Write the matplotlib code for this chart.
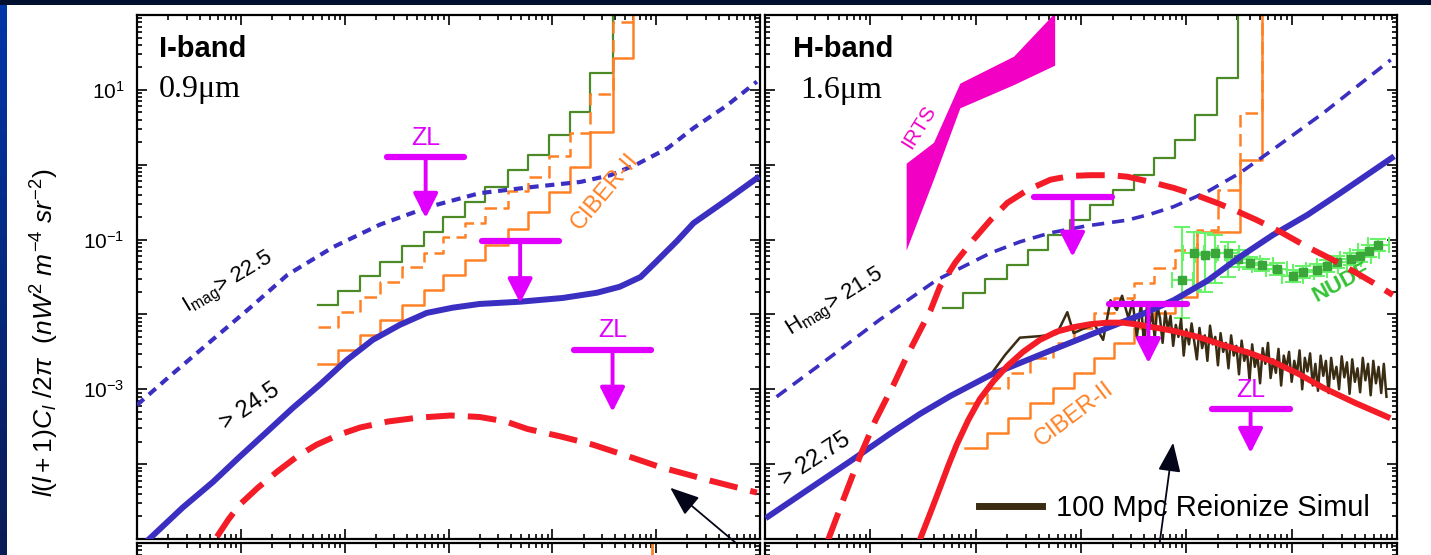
import numpy as np
import matplotlib.pyplot as plt
from matplotlib.lines import Line2D
from matplotlib.colors import LinearSegmentedColormap
from matplotlib.ticker import LogLocator, NullFormatter, FixedLocator, FixedFormatter

plt.rcParams['font.family'] = ['Liberation Sans', 'DejaVu Sans']
plt.rcParams['mathtext.fontset'] = 'custom'
plt.rcParams['mathtext.rm'] = 'Liberation Sans'
plt.rcParams['mathtext.it'] = 'Liberation Sans:italic'
plt.rcParams['mathtext.bf'] = 'Liberation Sans:bold'

# all values below are log10(ell) and log10(l(l+1)C_l/2pi)

# ---- I-band (0.9 um) ----
i_faint_lgl = [1.00, 1.32, 1.70, 2.09, 2.45, 2.89, 3.34, 3.82, 4.30, 4.79, 5.27, 5.56, 5.82, 6.11,
               6.36, 6.68, 6.97]
i_faint_lgc = [-3.21, -2.82, -2.37, -1.91, -1.47, -1.10, -0.80, -0.56, -0.38, -0.30, -0.23, -0.14,
               0.01, 0.22, 0.49, 0.79, 1.11]

i_deep_lgl = [1.11, 1.44, 1.73, 1.99, 2.25, 2.50, 2.76, 3.02, 3.27, 3.53, 3.79, 4.04, 4.30, 4.69,
              5.10, 5.43, 5.65, 5.85, 5.99, 6.20, 6.36, 6.68, 6.97]
i_deep_lgc = [-5.01, -4.58, -4.24, -3.90, -3.57, -3.25, -2.94, -2.61, -2.34, -2.14, -1.98, -1.91,
              -1.86, -1.83, -1.78, -1.71, -1.63, -1.50, -1.31, -1.02, -0.78, -0.47, -0.18]

i_reion_lgl = [1.77, 1.88, 1.99, 2.16, 2.35, 2.54, 2.73, 2.94, 3.15, 3.42, 3.70, 4.02, 4.30, 4.55,
               4.76, 5.08, 5.39, 5.72, 6.04, 6.52, 6.97]
i_reion_lgc = [-4.97, -4.74, -4.54, -4.32, -4.10, -3.90, -3.74, -3.61, -3.51, -3.43, -3.38, -3.35,
               -3.37, -3.43, -3.53, -3.63, -3.74, -3.89, -4.04, -4.22, -4.38]

i_bins = [2.74, 2.94, 3.15, 3.34, 3.55, 3.76, 3.95, 4.16, 4.35, 4.57, 4.77, 4.97, 5.17, 5.36, 5.58, 5.78]
i_green = [-1.87, -1.69, -1.49, -1.30, -1.08, -0.90, -0.70, -0.50, -0.30, -0.07, 0.13, 0.40, 0.71, 1.23, 3.0]
i_ciber_dash = [-2.17, -1.97, -1.77, -1.57, -1.37, -1.18, -0.96, -0.78, -0.58, -0.35, -0.16, 0.12, 0.43,
                0.95, 1.91, 1.91]
i_ciber = [-2.66, -2.47, -2.27, -2.07, -1.87, -1.67, -1.47, -1.27, -1.07, -0.86, -0.63, -0.36, -0.03,
           0.44, 1.43, 3.0]

i_zl_lgl = [3.78, 4.69, 5.58]
i_zl_lgc = [0.10, -1.02, -2.47]
i_zl_tip = [-0.71, -1.85, -3.30]
i_zl_text = [True, False, True]

# ---- H-band (1.6 um) ----
h_faint_lgl = [1.11, 1.62, 2.09, 2.63, 3.14, 3.42, 3.71, 4.04, 4.44, 4.66, 4.88, 5.20, 5.51, 5.82,
               6.30, 6.94]
h_faint_lgc = [-3.10, -2.57, -2.07, -1.54, -1.18, -1.03, -0.91, -0.82, -0.74, -0.66, -0.56, -0.36,
               -0.11, 0.20, 0.69, 1.40]

h_deep_lgl = [1.03, 1.43, 1.81, 2.19, 2.47, 2.76, 3.14, 3.61, 4.09, 4.56, 4.88, 5.20, 5.51, 5.82,
              6.15, 6.46, 6.95]
h_deep_lgc = [-4.70, -4.32, -3.96, -3.59, -3.33, -3.09, -2.81, -2.54, -2.27, -2.01, -1.81, -1.55,
              -1.23, -0.94, -0.67, -0.38, 0.09]

h_reion_lgl = [1.60, 1.75, 1.90, 2.05, 2.22, 2.35, 2.47, 2.57, 2.66, 2.81, 2.98, 3.14, 3.30, 3.49,
               3.71, 3.90, 4.09, 4.28, 4.44, 4.66, 4.88, 5.08, 5.29, 5.48, 5.67, 5.91, 6.15, 6.39,
               6.62, 6.79, 6.96]
h_reion_lgc = [-5.01, -4.45, -3.90, -3.41, -2.94, -2.55, -2.22, -1.95, -1.63, -1.30, -1.00, -0.74,
               -0.51, -0.34, -0.20, -0.15, -0.14, -0.14, -0.16, -0.23, -0.31, -0.40, -0.51, -0.62,
               -0.74, -0.91, -1.10, -1.27, -1.45, -1.59, -1.74]

h_model_lgl = [2.47, 2.57, 2.66, 2.74, 2.82, 2.93, 3.04, 3.17, 3.30, 3.45, 3.61, 3.77, 3.93, 4.09,
               4.25, 4.40, 4.56, 4.72, 4.88, 5.11, 5.35, 5.59, 5.82, 6.06, 6.30, 6.60, 6.91]
h_model_lgc = [-5.01, -4.65, -4.32, -4.02, -3.74, -3.41, -3.13, -2.89, -2.69, -2.50, -2.34, -2.23,
               -2.17, -2.13, -2.11, -2.11, -2.14, -2.18, -2.22, -2.30, -2.41, -2.51, -2.63, -2.79,
               -2.98, -3.18, -3.37]

sim_lgl = [3.14, 3.28, 3.42, 3.61, 3.77, 3.87, 3.93, 4.04, 4.13, 4.21, 4.28, 4.34, 4.39, 4.45, 4.49,
           4.53, 4.57,
           4.600, 4.625, 4.650, 4.675, 4.700, 4.725, 4.750, 4.775, 4.800, 4.825, 4.850, 4.875,
           4.900, 4.925, 4.950, 4.975, 5.000, 5.025, 5.050, 5.075, 5.100, 5.125, 5.150, 5.175,
           5.200, 5.225, 5.250, 5.275, 5.300, 5.325, 5.350, 5.375, 5.400, 5.425, 5.450, 5.475,
           5.500, 5.525, 5.550, 5.575, 5.600, 5.625, 5.650, 5.675, 5.700, 5.725, 5.750, 5.775,
           5.800, 5.825, 5.850, 5.875, 5.900, 5.925, 5.950, 5.975, 6.000, 6.025, 6.050, 6.075,
           6.100, 6.125, 6.150, 6.175, 6.200, 6.225, 6.250, 6.275, 6.300, 6.325, 6.350, 6.375,
           6.400, 6.425, 6.450, 6.475, 6.500, 6.525, 6.550, 6.575, 6.600, 6.625, 6.650, 6.675,
           6.700, 6.725, 6.750, 6.775, 6.800, 6.825, 6.850, 6.875, 6.900]
sim_lgc = [-2.81, -2.54, -2.31, -2.29, -2.26, -1.97, -2.25, -2.18, -2.14, -2.34, -1.81, -1.94, -1.75,
           -2.05, -1.82, -2.30, -1.85,
           -2.45, -1.90, -2.15, -1.98, -2.32, -1.88, -2.05, -2.38, -1.96, -2.20, -2.02, -2.42,
           -2.14, -2.30, -2.06, -2.55, -2.20, -2.40, -2.12, -2.36, -2.60, -2.18, -2.45, -2.28,
           -2.62, -2.15, -2.40, -2.30, -2.68, -2.25, -2.50, -2.38, -2.72, -2.28, -2.55, -2.42,
           -2.80, -2.35, -2.62, -2.48, -2.88, -2.40, -2.70, -2.55, -2.92, -2.45, -2.66, -2.38,
           -2.85, -2.60, -2.78, -2.46, -2.95, -2.55, -2.72, -2.50, -2.90, -2.62, -2.80, -2.48,
           -3.00, -2.58, -2.76, -2.52, -2.95, -2.66, -3.02, -2.55, -2.82, -2.62, -3.05, -2.58,
           -2.86, -2.70, -3.00, -2.56, -2.84, -2.64, -3.06, -2.60, -2.90, -2.72, -3.04, -2.58,
           -2.88, -2.66, -3.08, -2.62, -2.92, -2.70, -3.05, -2.66, -3.10]

h_green_bins = [2.69, 2.88, 3.09, 3.30, 3.50, 3.69, 3.90, 4.09, 4.30, 4.50, 4.69, 4.89, 5.08, 5.29, 5.49]
h_green = [-1.91, -1.71, -1.53, -1.34, -1.14, -0.94, -0.74, -0.54, -0.34, -0.14, 0.09, 0.33, 0.67, 1.16, 3.0]
h_bins = [2.90, 3.11, 3.31, 3.52, 3.73, 3.93, 4.12, 4.31, 4.50, 4.69, 4.89, 5.10, 5.30, 5.51, 5.72]
h_ciber_dash = [-3.18, -2.98, -2.78, -2.58, -2.38, -2.18, -1.98, -1.78, -1.58, -1.38, -1.14, -0.87,
                -0.34, 0.69, 3.0]
h_ciber = [-3.78, -3.58, -3.38, -3.18, -2.98, -2.78, -2.58, -2.38, -2.18, -1.98, -1.77, -0.90, -0.90,
           0.06, 3.0]

irts_lgl = [2.34, 2.60, 2.85, 3.36, 3.75]
irts_hi = [0.02, 0.30, 1.09, 1.45, 2.03]
irts_lo = [-1.14, -0.19, 0.76, 1.07, 1.33]

nudf_lgl = [4.96, 5.07, 5.18, 5.27, 5.40, 5.49, 5.60, 5.72, 5.86, 6.01, 6.11, 6.24, 6.34, 6.43, 6.56,
            6.65, 6.73, 6.82]
nudf_lgc = [-1.54, -1.18, -1.20, -1.18, -1.18, -1.26, -1.31, -1.34, -1.39, -1.49, -1.43, -1.41, -1.35,
            -1.30, -1.26, -1.22, -1.15, -1.07]
nudf_hi = [-0.83, -0.90, -0.91, -0.94, -1.03, -1.14, -1.23, -1.26, -1.31, -1.41, -1.35, -1.33, -1.27,
           -1.22, -1.18, -1.14, -1.07, -0.99]
nudf_lo = [-2.05, -1.67, -1.70, -1.58, -1.50, -1.37, -1.39, -1.42, -1.47, -1.57, -1.51, -1.49, -1.43,
           -1.38, -1.34, -1.30, -1.23, -1.15]

h_zl_lgl = [3.92, 4.64, 5.61]
h_zl_lgc = [-0.43, -1.86, -3.27]
h_zl_tip = [-1.23, -2.65, -3.85]
h_zl_text = [False, False, True]

# lower (cut-off) panel: only an orange mark pokes in
low_mark_lgl = 5.96

BLUE = '#3b2fc2'
RED = '#f41c26'
GREEN = '#4b8a26'
ORANGE = '#ff8126'
ZLC = '#e100ff'
IRTS = '#f200c4'
BROWN = '#3a2c12'


def p(a):
    return np.power(10.0, np.asarray(a, dtype=float))


W, H = 1431, 555
fig = plt.figure(figsize=(W / 100, H / 100), dpi=100, facecolor='white')

# slide border: dark band on top, blue strip on the left
band = fig.add_axes([0, 1 - 5 / H, 1, 5 / H])
band.set_axis_off()
band.add_patch(plt.Rectangle((0, 0), 1, 1, color='#00102e', transform=band.transAxes))
strip = fig.add_axes([0, 0, 7 / W, 1 - 5 / H])
strip.imshow(np.linspace(0, 1, 100)[:, None], aspect='auto', extent=[0, 1, 0, 1],
             cmap=LinearSegmentedColormap.from_list('s', ['#0036a8', '#0a1c55']))
strip.set_axis_off()


def px_box(x0, x1, ytop, ybot):
    return [x0 / W, 1 - ybot / H, (x1 - x0) / W, (ybot - ytop) / H]


axL = fig.add_axes(px_box(137, 760, 15, 539))
axR = fig.add_axes(px_box(765, 1397, 15, 539))
lowL = fig.add_axes(px_box(137, 760, 543, 1100))
lowR = fig.add_axes(px_box(765, 1397, 543, 1100))

y_exp = [-5, -4, -3, -2, -1, 0, 1, 2]
y_txt = ['', '', r'$10^{-3}$', '', r'$10^{-1}$', '', r'$10^{1}$', '']

for ax in (axL, axR, lowL, lowR):
    ax.set_xscale('log')
    ax.set_yscale('log')
    ax.set_xlim(1e1, 1e7)
    ax.xaxis.set_major_locator(LogLocator(base=10, numticks=20))
    ax.xaxis.set_minor_locator(LogLocator(base=10, subs=np.arange(2, 10), numticks=100))
    ax.xaxis.set_major_formatter(NullFormatter())
    ax.xaxis.set_minor_formatter(NullFormatter())
    ax.yaxis.set_major_locator(FixedLocator(p(y_exp)))
    ax.yaxis.set_minor_locator(LogLocator(base=10, subs=np.arange(2, 10), numticks=100))
    ax.yaxis.set_minor_formatter(NullFormatter())
    ax.tick_params(which='both', direction='in', top=True, right=True, width=1.2)
    ax.tick_params(which='major', length=7)
    ax.tick_params(which='minor', length=3.5)
    for s in ax.spines.values():
        s.set_linewidth(1.6)

for ax in (axL, axR):
    ax.set_ylim(1e-5, 1e2)
for ax in (lowL, lowR):
    ax.set_ylim(p(2 - (1100 - 543) / 74.9), 1e2)
    ax.yaxis.set_major_formatter(NullFormatter())

axL.yaxis.set_major_formatter(FixedFormatter(y_txt))
axL.tick_params(axis='y', labelsize=15, pad=9)
axR.yaxis.set_major_formatter(NullFormatter())

lowL.plot(p([low_mark_lgl, low_mark_lgl]), p([2.0, 1.0]), color=ORANGE, lw=2)

fig.text(45 / W, 1 - 333 / H, r'$l(l+1)C_l\ /2\pi\ \ (nW^2\ m^{-4}\ sr^{-2})$',
         rotation=90, ha='center', va='center', fontsize=19)


def upper_limit(ax, l, c, tip, label):
    ax.plot(p([l - 0.37, l + 0.37]), p([c, c]), color=ZLC, lw=4.5, solid_capstyle='round', zorder=8)
    ax.annotate('', xy=(p(l), p(tip)), xytext=(p(l), p(c)), zorder=8,
                arrowprops=dict(arrowstyle='-|>,head_length=0.75,head_width=0.38', mutation_scale=20,
                                color=ZLC, lw=2.8, shrinkA=0, shrinkB=0))
    if label:
        ax.annotate('ZL', (p(l), p(c)), xytext=(0, 9), textcoords='offset points', ha='center',
                    va='baseline', color=ZLC, fontsize=18, zorder=8)


def steps(ax, edges, levels, **kw):
    ax.plot(p(edges), p(levels), drawstyle='steps-post', **kw)


# ---------- I-band panel ----------
ax = axL
steps(ax, i_bins[:len(i_green)], i_green, color=GREEN, lw=1.6, zorder=2)
steps(ax, i_bins, i_ciber_dash, color=ORANGE, lw=1.8, ls=(0, (5, 2.6)), zorder=2)
steps(ax, i_bins, i_ciber, color=ORANGE, lw=1.8, zorder=2)
ax.plot(p(i_faint_lgl), p(i_faint_lgc), color=BLUE, lw=3.0, ls=(0, (2.2, 1.6)), zorder=4)
ax.plot(p(i_deep_lgl), p(i_deep_lgc), color=BLUE, lw=4.3, zorder=4, solid_joinstyle='round')
ax.plot(p(i_reion_lgl), p(i_reion_lgc), color=RED, lw=4.3, ls=(0, (4.8, 2.2)), zorder=5)
for l, c, t, lab in zip(i_zl_lgl, i_zl_lgc, i_zl_tip, i_zl_text):
    upper_limit(ax, l, c, t, lab)

ax.text(0.035, 0.920, 'I-band', transform=ax.transAxes, fontsize=21, fontweight='bold', va='baseline')
ax.text(0.035, 0.843, '0.9\u03bcm', transform=ax.transAxes, fontsize=23, va='baseline',
        family='Liberation Serif')
ax.text(p(1.88), p(-1.58), r'I$_{\rm mag}$> 22.5', rotation=31, ha='center', va='center',
        rotation_mode='anchor', fontsize=16, zorder=7)
ax.text(p(2.09), p(-3.23), '> 24.5', rotation=34, ha='center', va='center',
        rotation_mode='anchor', fontsize=17, zorder=7)
ax.text(p(5.51), p(-0.36), 'CIBER-II', rotation=50, ha='center', va='center',
        rotation_mode='anchor', fontsize=17, color=ORANGE, zorder=7)
ax.annotate('', xy=(p(6.135), p(-4.315)), xytext=(768, -15), textcoords='figure pixels',
            annotation_clip=False, zorder=9,
            arrowprops=dict(arrowstyle='-|>,head_length=0.9,head_width=0.35', mutation_scale=20,
                            color='#05051a', lw=1.3, shrinkA=0, shrinkB=0))

# ---------- H-band panel ----------
ax = axR
ax.fill_between(p(irts_lgl), p(irts_lo), p(irts_hi), color=IRTS, lw=0, zorder=2)
steps(ax, h_green_bins, h_green, color=GREEN, lw=1.6, zorder=2)
steps(ax, h_bins, h_ciber_dash, color=ORANGE, lw=1.8, ls=(0, (5, 2.6)), zorder=2)
steps(ax, h_bins, h_ciber, color=ORANGE, lw=1.8, zorder=2)
nl, nc = p(nudf_lgl), p(nudf_lgc)
ax.errorbar(nl, nc, yerr=[nc - p(nudf_lo), p(nudf_hi) - nc],
            xerr=[nl - p(np.array(nudf_lgl) - 0.1), p(np.array(nudf_lgl) + 0.1) - nl],
            fmt='s', ms=6, mfc='#3aa63a', mec='#3aa63a', ecolor='#6af26a', elinewidth=1.5,
            capsize=6, capthick=1.5, zorder=3)
ax.plot(p(sim_lgl), p(sim_lgc), color=BROWN, lw=1.8, zorder=3)
ax.plot(p(h_faint_lgl), p(h_faint_lgc), color=BLUE, lw=2.6, ls=(0, (3.4, 2.2)), zorder=4)
ax.plot(p(h_deep_lgl), p(h_deep_lgc), color=BLUE, lw=4.3, zorder=4, solid_joinstyle='round')
ax.plot(p(h_model_lgl), p(h_model_lgc), color=RED, lw=4.3, zorder=5, solid_joinstyle='round')
ax.plot(p(h_reion_lgl), p(h_reion_lgc), color=RED, lw=4.3, ls=(0, (4.8, 2.2)), zorder=5)
for l, c, t, lab in zip(h_zl_lgl, h_zl_lgc, h_zl_tip, h_zl_text):
    upper_limit(ax, l, c, t, lab)

ax.text(0.044, 0.920, 'H-band', transform=ax.transAxes, fontsize=21, fontweight='bold', va='baseline')
ax.text(0.055, 0.842, '1.6\u03bcm', transform=ax.transAxes, fontsize=23, va='baseline',
        family='Liberation Serif')
ax.text(p(2.46), p(0.50), 'IRTS', rotation=58, ha='center', va='center', rotation_mode='anchor',
        fontsize=15, color=IRTS, zorder=7)
ax.text(p(1.67), p(-1.85), r'H$_{\rm mag}$> 21.5', rotation=32, ha='center', va='center',
        rotation_mode='anchor', fontsize=16, zorder=7)
ax.text(p(1.48), p(-3.94), '> 22.75', rotation=33, ha='center', va='center',
        rotation_mode='anchor', fontsize=17, zorder=7)
ax.text(p(3.93), p(-3.34), 'CIBER-II', rotation=37, ha='center', va='center',
        rotation_mode='anchor', fontsize=17, color=ORANGE, zorder=7)
ax.text(p(6.47), p(-1.58), 'NUDF', rotation=28, ha='center', va='center',
        rotation_mode='anchor', fontsize=16, fontweight='bold', color='#34c234', zorder=4)
ax.legend(handles=[Line2D([], [], color=BROWN, lw=5)], labels=['100 Mpc Reionize Simul'],
          loc='center right', bbox_to_anchor=(1 - 27 / 632, 31 / 524), frameon=False, fontsize=21,
          handlelength=2.15, handletextpad=0.48, borderpad=0, borderaxespad=0)
ax.annotate('', xy=(p(4.875), p(-3.714)), xytext=(1156, -15), textcoords='figure pixels',
            annotation_clip=False, zorder=9,
            arrowprops=dict(arrowstyle='-|>,head_length=0.9,head_width=0.35', mutation_scale=20,
                            color='#05051a', lw=1.3, shrinkA=0, shrinkB=0))

fig.savefig('out.png', dpi=100, facecolor=fig.get_facecolor())
